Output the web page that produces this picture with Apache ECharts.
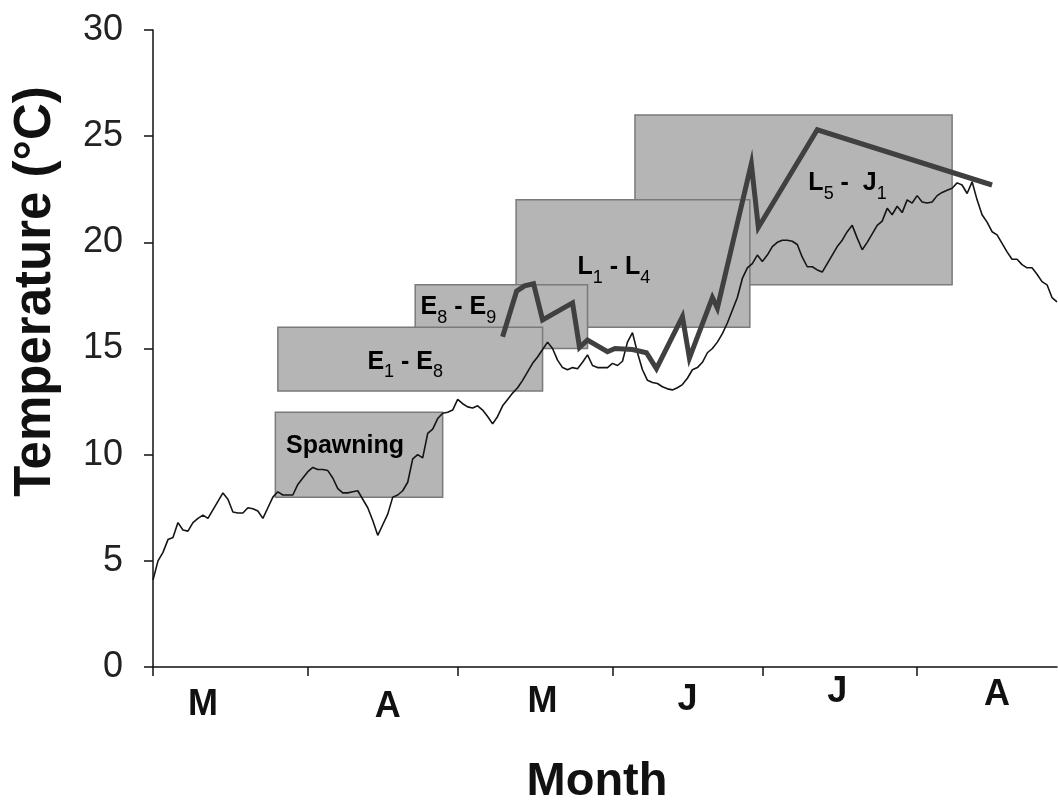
<!DOCTYPE html>
<html>
<head>
<meta charset="utf-8">
<title>Temperature by month</title>
<script src="https://cdn.jsdelivr.net/npm/echarts@6/dist/echarts.min.js"></script>
<style>
  html, body { margin: 0; padding: 0; background: #fff; }
  #chart { width: 1058px; height: 801px; }
</style>
</head>
<body>
<div id="chart"></div>
<script>
// Daily water temperature (°C), one value per day starting 1 March
const temperature = [
  4.1, 5.0, 5.4, 6.0, 6.1, 6.8, 6.45, 6.4, 6.8, 7.0,
  7.15, 7.0, 7.4, 7.8, 8.2, 7.9, 7.3, 7.25, 7.25, 7.5,
  7.45, 7.35, 7.0, 7.5, 8.0, 8.25, 8.1, 8.1, 8.1, 8.6,
  8.9, 9.2, 9.4, 9.3, 9.3, 9.25, 8.9, 8.4, 8.2, 8.2,
  8.25, 8.3, 7.9, 7.5, 6.9, 6.2, 6.7, 7.2, 8.0, 8.1,
  8.3, 8.7, 9.8, 10.0, 9.85, 11.0, 11.2, 11.7, 11.95, 12.0,
  12.1, 12.6, 12.4, 12.25, 12.2, 12.3, 12.1, 11.8, 11.45, 11.8,
  12.3, 12.6, 12.9, 13.15, 13.5, 13.9, 14.3, 14.6, 14.95, 15.3,
  15.0, 14.45, 14.1, 14.0, 14.1, 14.05, 14.35, 14.7, 14.2, 14.1,
  14.1, 14.1, 14.3, 14.2, 14.4, 15.3, 15.75, 14.8, 14.0, 13.5,
  13.4, 13.35, 13.2, 13.1, 13.05, 13.15, 13.3, 13.6, 14.0, 14.1,
  14.35, 14.8, 15.0, 15.3, 15.7, 16.2, 16.8, 17.4, 18.3, 18.8,
  19.0, 19.4, 19.1, 19.4, 19.8, 20.0, 20.1, 20.1, 20.05, 19.9,
  19.3, 18.85, 18.85, 18.7, 18.6, 19.0, 19.4, 19.8, 20.1, 20.5,
  20.8, 20.2, 19.65, 20.0, 20.4, 20.8, 21.0, 21.6, 21.3, 21.7,
  21.4, 22.0, 21.85, 22.2, 21.9, 21.85, 21.9, 22.2, 22.35, 22.45,
  22.55, 22.8, 22.7, 22.3, 22.85, 22.0, 21.3, 20.95, 20.5, 20.35,
  19.95, 19.55, 19.2, 19.2, 18.95, 18.8, 18.8, 18.5, 18.15, 18.0,
  17.4, 17.2
];

// Temperatures experienced by the developing stages (day since 1 March, °C)
const stageDays  = [70, 72.8, 74.4, 76.2, 78, 84, 85.4, 87, 91, 92.5, 96, 98.8, 100.8, 106, 107.4, 112, 113, 119.8, 121.2, 133, 168];
const stageTemps = [15.55, 17.7, 17.95, 18.05, 16.35, 17.15, 15.05, 15.4, 14.85, 15.0, 14.95, 14.8, 14.05, 16.5, 14.55, 17.4, 16.9, 23.7, 20.7, 25.3, 22.7];

// Life-stage windows: day range and temperature range
const stageNames = ['Spawning', 'E1 - E8', 'E8 - E9', 'L1 - L4', 'L5 -  J1'];
const stageFrom  = [24.5, 25, 52.5, 72.7, 96.5];
const stageTo    = [58, 78, 87, 119.5, 160];
const stageLow   = [8, 13, 15, 16, 18];
const stageHigh  = [12, 16, 18, 22, 26];

// Month axis
const monthStarts    = [0, 31, 61, 92, 122, 153];
const monthLabels    = ['M', 'A', 'M', 'J', 'J', 'A'];
const monthLabelDays = [10, 47, 78, 107, 137, 169];
const lastDay = 181;

const FONT = '"Liberation Sans", Arial, Helvetica, sans-serif';

// label nudges inside each stage box (px), same order as stageNames
const labelNudge = [[-14, -7], [-5, 6], [-43, -6], [-19, 7], [54, -13]];
// small vertical shifts of the month letters (px)
const monthShift = [13, 15, 10, 8, 0, 3];

const dayNames = Array.from({ length: lastDay + 1 }, (_, i) => String(i));

function stageRich(name) {
  return '{b|' + name.replace(/(\d+)/g, '}{s|$1}{b|') + '}';
}

const stageTextRich = {
  b: { fontFamily: FONT, fontSize: 25, fontWeight: 'bold', color: '#111', verticalAlign: 'top', lineHeight: 28 },
  s: { fontFamily: FONT, fontSize: 18, fontWeight: 'normal', color: '#111', verticalAlign: 'top', padding: [14, 0, 0, 0] }
};

const monthRich = {};
monthShift.forEach((p, k) => {
  monthRich['m' + k] = { fontFamily: FONT, fontSize: 36, fontWeight: 'bold', color: '#111', padding: [p, 0, 0, 0] };
});

// draw order: later windows underneath, spawning on top
const boxOrder = stageNames.map((_, i) => i).reverse();
const boxData = boxOrder.map(i => [stageFrom[i], stageTo[i], stageLow[i], stageHigh[i], i]);

const chart = echarts.init(document.getElementById('chart'), null, { renderer: 'canvas' });

chart.setOption({
  animation: false,
  backgroundColor: '#fff',
  grid: { left: 153, right: 1, top: 30, bottom: 134, containLabel: false, outerBoundsMode: 'none' },
  xAxis: [
    {
      type: 'category',
      data: dayNames,
      boundaryGap: false,
      position: 'bottom',
      axisLine: { lineStyle: { color: '#111', width: 1.5 } },
      axisTick: {
        interval: (i) => monthStarts.indexOf(i) >= 0,
        length: 9,
        lineStyle: { color: '#111', width: 1.5 }
      },
      axisLabel: {
        interval: (i) => monthLabelDays.indexOf(i) >= 0,
        formatter: (value) => {
          const k = monthLabelDays.indexOf(Number(value));
          return k >= 0 ? '{m' + k + '|' + monthLabels[k] + '}' : '';
        },
        rich: monthRich,
        margin: 7
      },
      splitLine: { show: false },
      name: 'Month',
      nameLocation: 'middle',
      nameGap: 92,
      nameTextStyle: { fontFamily: FONT, fontSize: 47, fontWeight: 'bold', color: '#111', padding: [0, 16, 0, 0] }
    },
    { type: 'value', min: 0, max: lastDay, show: false }
  ],
  yAxis: {
    type: 'value',
    min: 0,
    max: 30,
    interval: 5,
    axisLine: { show: true, lineStyle: { color: '#111', width: 1.5 } },
    axisTick: { show: true, length: 9, lineStyle: { color: '#111', width: 1.5 } },
    axisLabel: { fontFamily: FONT, fontSize: 36, color: '#222', margin: 30 },
    splitLine: { show: false },
    name: 'Temperature (°C)',
    nameLocation: 'middle',
    nameGap: 92,
    nameTextStyle: { fontFamily: FONT, fontSize: 51, fontWeight: 'bold', color: '#111', padding: [0, 0, 0, 114] }
  },
  series: [
    {
      type: 'custom',
      xAxisIndex: 1,
      z: 1,
      encode: { x: [0, 1], y: [2, 3] },
      data: boxData,
      renderItem: (params, api) => {
        const idx = api.value(4);
        const a = api.coord([api.value(0), api.value(3)]);
        const b = api.coord([api.value(1), api.value(2)]);
        const nudge = labelNudge[idx];
        return {
          type: 'group',
          children: [
            {
              type: 'rect',
              shape: { x: a[0], y: a[1], width: b[0] - a[0], height: b[1] - a[1] },
              style: { fill: '#b5b5b5', stroke: '#7a7a7a', lineWidth: 1.5 }
            },
            {
              type: 'text',
              x: (a[0] + b[0]) / 2 + nudge[0],
              y: (a[1] + b[1]) / 2 + nudge[1],
              style: {
                text: stageRich(stageNames[idx]),
                rich: stageTextRich,
                align: 'center',
                verticalAlign: 'middle'
              }
            }
          ]
        };
      }
    },
    {
      name: 'Daily temperature',
      type: 'line',
      xAxisIndex: 1,
      z: 3,
      showSymbol: false,
      symbol: 'none',
      data: temperature.map((v, i) => [i, v]),
      lineStyle: { color: '#151515', width: 1.6 }
    },
    {
      name: 'Stage temperature',
      type: 'line',
      xAxisIndex: 1,
      z: 4,
      showSymbol: false,
      symbol: 'none',
      data: stageDays.map((d, i) => [d, stageTemps[i]]),
      lineStyle: { color: '#404040', width: 5, join: 'miter', miterLimit: 10 }
    }
  ]
});
</script>
</body>
</html>
